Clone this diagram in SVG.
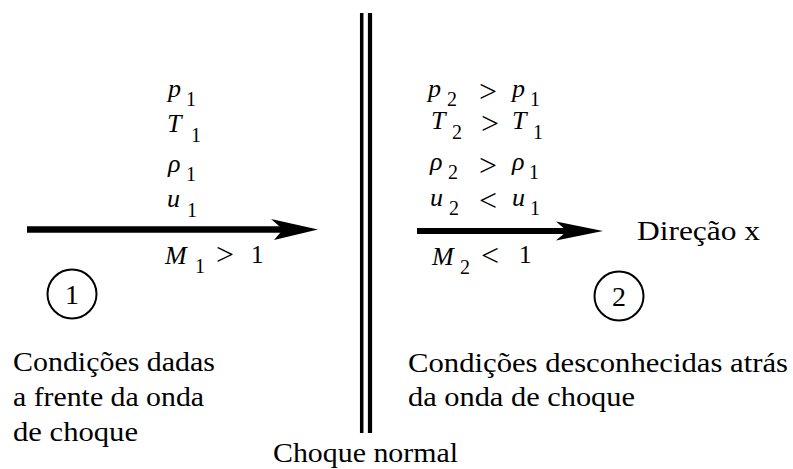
<svg xmlns="http://www.w3.org/2000/svg" width="793" height="469" viewBox="0 0 793 469">
<rect width="793" height="469" fill="#fff"/>
<g id="shock">
<line x1="361.7" y1="13" x2="361.7" y2="433" stroke="#000" stroke-width="3.5"/>
<line x1="370" y1="13" x2="370" y2="433" stroke="#000" stroke-width="4.2"/>
<text style="font-family:'Liberation Serif',serif !important;font-size:27px" x="273" y="462" textLength="185" lengthAdjust="spacingAndGlyphs">Choque normal</text>
</g>
<g id="connectors">
<line x1="27" y1="229.5" x2="286" y2="229.5" stroke="#000" stroke-width="6.5"/>
<path d="M318,229.5 L271,219 L283,229.5 L274,240 Z" fill="#000"/>
<line x1="417" y1="231" x2="570" y2="231" stroke="#000" stroke-width="6"/>
<path d="M603,231 L556,221.5 L567,231 L556,240.5 Z" fill="#000"/>
</g>
<g id="state1">
<circle cx="72" cy="294" r="24.5" fill="none" stroke="#000" stroke-width="2"/>
<text style="font-family:'Liberation Serif',serif !important;font-size:28px" text-anchor="middle" x="72" y="304">1</text>
</g>
<g id="state2">
<circle cx="619" cy="296" r="24.5" fill="none" stroke="#000" stroke-width="2"/>
<text style="font-family:'Liberation Serif',serif !important;font-size:28px" text-anchor="middle" x="619" y="306">2</text>
</g>
<g id="upstream">
<text style="font-family:'Liberation Serif',serif !important;font-style:italic;font-size:26px" x="168" y="97">p</text>
<text style="font-family:'Liberation Serif',serif !important;font-size:20px" x="186" y="106">1</text>
<text style="font-family:'Liberation Serif',serif !important;font-style:italic;font-size:26px" x="167" y="132">T</text>
<text style="font-family:'Liberation Serif',serif !important;font-size:20px" x="191" y="142">1</text>
<text style="font-family:'Liberation Serif',serif !important;font-style:italic;font-size:26px" x="168" y="172">ρ</text>
<text style="font-family:'Liberation Serif',serif !important;font-size:20px" x="186" y="181">1</text>
<text style="font-family:'Liberation Serif',serif !important;font-style:italic;font-size:26px" x="167" y="207">u</text>
<text style="font-family:'Liberation Serif',serif !important;font-size:20px" x="187" y="217">1</text>
<text style="font-family:'Liberation Serif',serif !important;font-style:italic;font-size:26px" x="165" y="264">M</text>
<text style="font-family:'Liberation Serif',serif !important;font-size:20px" x="195" y="273">1</text>
<text style="font-family:'Liberation Serif',serif !important;font-size:32px" x="216" y="265">&gt;</text>
<text style="font-family:'Liberation Serif',serif !important;font-size:25px" x="251" y="263">1</text>
</g>
<g id="downstream">
<text style="font-family:'Liberation Serif',serif !important;font-style:italic;font-size:26px" x="428" y="97">p</text>
<text style="font-family:'Liberation Serif',serif !important;font-size:20px" x="447" y="106">2</text>
<text style="font-family:'Liberation Serif',serif !important;font-size:32px" x="479" y="102">&gt;</text>
<text style="font-family:'Liberation Serif',serif !important;font-style:italic;font-size:26px" x="512" y="97">p</text>
<text style="font-family:'Liberation Serif',serif !important;font-size:20px" x="530" y="106">1</text>
<text style="font-family:'Liberation Serif',serif !important;font-style:italic;font-size:26px" x="431" y="129">T</text>
<text style="font-family:'Liberation Serif',serif !important;font-size:20px" x="452" y="139">2</text>
<text style="font-family:'Liberation Serif',serif !important;font-size:32px" x="481" y="134">&gt;</text>
<text style="font-family:'Liberation Serif',serif !important;font-style:italic;font-size:26px" x="512" y="129">T</text>
<text style="font-family:'Liberation Serif',serif !important;font-size:20px" x="533" y="139">1</text>
<text style="font-family:'Liberation Serif',serif !important;font-style:italic;font-size:26px" x="430" y="170">ρ</text>
<text style="font-family:'Liberation Serif',serif !important;font-size:20px" x="448" y="179">2</text>
<text style="font-family:'Liberation Serif',serif !important;font-size:32px" x="479" y="176">&gt;</text>
<text style="font-family:'Liberation Serif',serif !important;font-style:italic;font-size:26px" x="512" y="170">ρ</text>
<text style="font-family:'Liberation Serif',serif !important;font-size:20px" x="529" y="179">1</text>
<text style="font-family:'Liberation Serif',serif !important;font-style:italic;font-size:26px" x="430" y="206">u</text>
<text style="font-family:'Liberation Serif',serif !important;font-size:20px" x="449" y="215">2</text>
<text style="font-family:'Liberation Serif',serif !important;font-size:32px" x="479" y="211">&lt;</text>
<text style="font-family:'Liberation Serif',serif !important;font-style:italic;font-size:26px" x="512" y="206">u</text>
<text style="font-family:'Liberation Serif',serif !important;font-size:20px" x="530" y="215">1</text>
<text style="font-family:'Liberation Serif',serif !important;font-style:italic;font-size:26px" x="432" y="265">M</text>
<text style="font-family:'Liberation Serif',serif !important;font-size:20px" x="460" y="274">2</text>
<text style="font-family:'Liberation Serif',serif !important;font-size:32px" x="481" y="266">&lt;</text>
<text style="font-family:'Liberation Serif',serif !important;font-size:25px" x="519" y="263">1</text>
</g>
<g id="direction">
<text style="font-family:'Liberation Serif',serif !important;font-size:27px" x="637" y="240" textLength="123" lengthAdjust="spacingAndGlyphs">Direção x</text>
</g>
<g id="given">
<text style="font-family:'Liberation Serif',serif !important;font-size:27px" x="13" y="371" textLength="202" lengthAdjust="spacingAndGlyphs">Condições dadas</text>
<text style="font-family:'Liberation Serif',serif !important;font-size:27px" x="13" y="406" textLength="191" lengthAdjust="spacingAndGlyphs">a frente da onda</text>
<text style="font-family:'Liberation Serif',serif !important;font-size:27px" x="13" y="441" textLength="125" lengthAdjust="spacingAndGlyphs">de choque</text>
</g>
<g id="unknown">
<text style="font-family:'Liberation Serif',serif !important;font-size:27px" x="408" y="372" textLength="380" lengthAdjust="spacingAndGlyphs">Condições desconhecidas atrás</text>
<text style="font-family:'Liberation Serif',serif !important;font-size:27px" x="408" y="406" textLength="227" lengthAdjust="spacingAndGlyphs">da onda de choque</text>
</g>
</svg>
